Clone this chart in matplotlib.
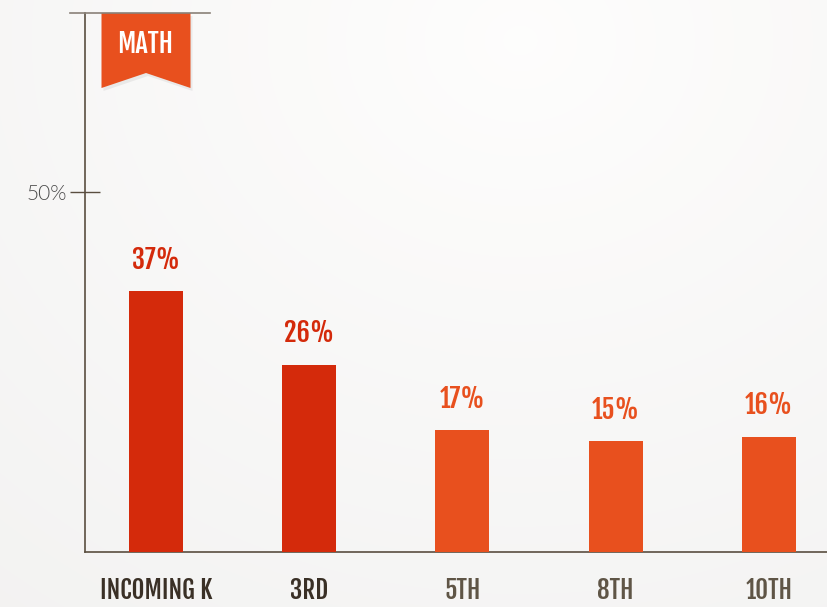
import matplotlib
matplotlib.use("Agg")
from matplotlib import pyplot as plt
from matplotlib.patches import Polygon
from matplotlib.lines import Line2D
import numpy as np

# data
grades = ["INCOMING K", "3RD", "5TH", "8TH", "10TH"]
values = [36.2, 26.0, 16.9, 15.4, 16.0]
value_labels = ["37%", "26%", "17%", "15%", "16%"]
bar_colors = ["#d42a0b", "#d42a0b", "#e8501e", "#e8501e", "#e8501e"]
grade_colors = ["#3a3026", "#3a3026", "#5f5546", "#5f5546", "#5f5546"]

cond = "Fjalla One"

W, H = 828, 607
fig = plt.figure(figsize=(W / 100, H / 100), dpi=100)

# soft radial background
bg = fig.add_axes([0, 0, 1, 1])
yy, xx = np.mgrid[0:H, 0:W]
d = np.sqrt(((xx - 520) / 700.0) ** 2 + ((yy - 40) / 600.0) ** 2)
shade = np.clip(0.995 - 0.035 * d, 0.94, 1.0)
bg.imshow(np.dstack([shade, shade * 0.998, shade * 0.995]), aspect="auto", extent=[0, W, H, 0])
bg.set_xlim(0, W)
bg.set_ylim(H, 0)
bg.axis("off")

# plot area in pixel terms
left_px, right_px, top_px, base_px = 85, 828, 13, 552
ax = fig.add_axes([left_px / W, (H - base_px) / H, (right_px - left_px) / W, (base_px - top_px) / H])
ax.patch.set_alpha(0)

x = np.arange(len(grades))
step = 153.25
ax.bar(x, values, width=54 / step, color=bar_colors, zorder=3)
ax.set_xlim((left_px - 156) / step, (right_px - 156) / step)
ax.set_ylim(0, 74.9)

for xi, v, lab, c in zip(x, values, value_labels, bar_colors):
    ax.annotate(lab, (xi, v), xytext=(0, 12), textcoords="offset points",
                ha="center", va="bottom", fontsize=19,
                color=c, family=cond)

for s in ["top", "right"]:
    ax.spines[s].set_visible(False)
for s in ["left", "bottom"]:
    ax.spines[s].set_color("#5a4e40")
    ax.spines[s].set_linewidth(1.2)

ax.set_yticks([50])
ax.set_yticklabels(["50%"], fontsize=15, color="#4a4a4a", family="Lato", fontweight=300)
ax.tick_params(axis="y", direction="inout", length=22, width=1.0, color="#5a4e40", pad=2)

ax.set_xticks(x)
ax.set_xticklabels(grades, fontsize=18, family=cond)
for t, c in zip(ax.get_xticklabels(), grade_colors):
    t.set_color(c)
ax.tick_params(axis="x", length=0, pad=18)

# top rule
fig.add_artist(Line2D([70 / W, 210 / W], [(H - 13) / H, (H - 13) / H],
                      color="#8a8178", lw=1.2, transform=fig.transFigure))

# ribbon
rib = [(101.5, 13), (190.5, 13), (190.5, 88), (146, 73), (101.5, 88)]
bg.add_patch(Polygon([(px + 2, py + 3) for px, py in rib], closed=True,
                     facecolor="#000000", alpha=0.06, edgecolor="none", zorder=4))
bg.add_patch(Polygon(rib, closed=True, facecolor="#e8501e", edgecolor="none", zorder=5))
bg.text(145.5, 44, "MATH", ha="center", va="center", color="white", fontsize=19,
        family=cond, zorder=6)
bg.set_zorder(0)
ax.set_zorder(1)

fig.savefig("out.png", dpi=100)
